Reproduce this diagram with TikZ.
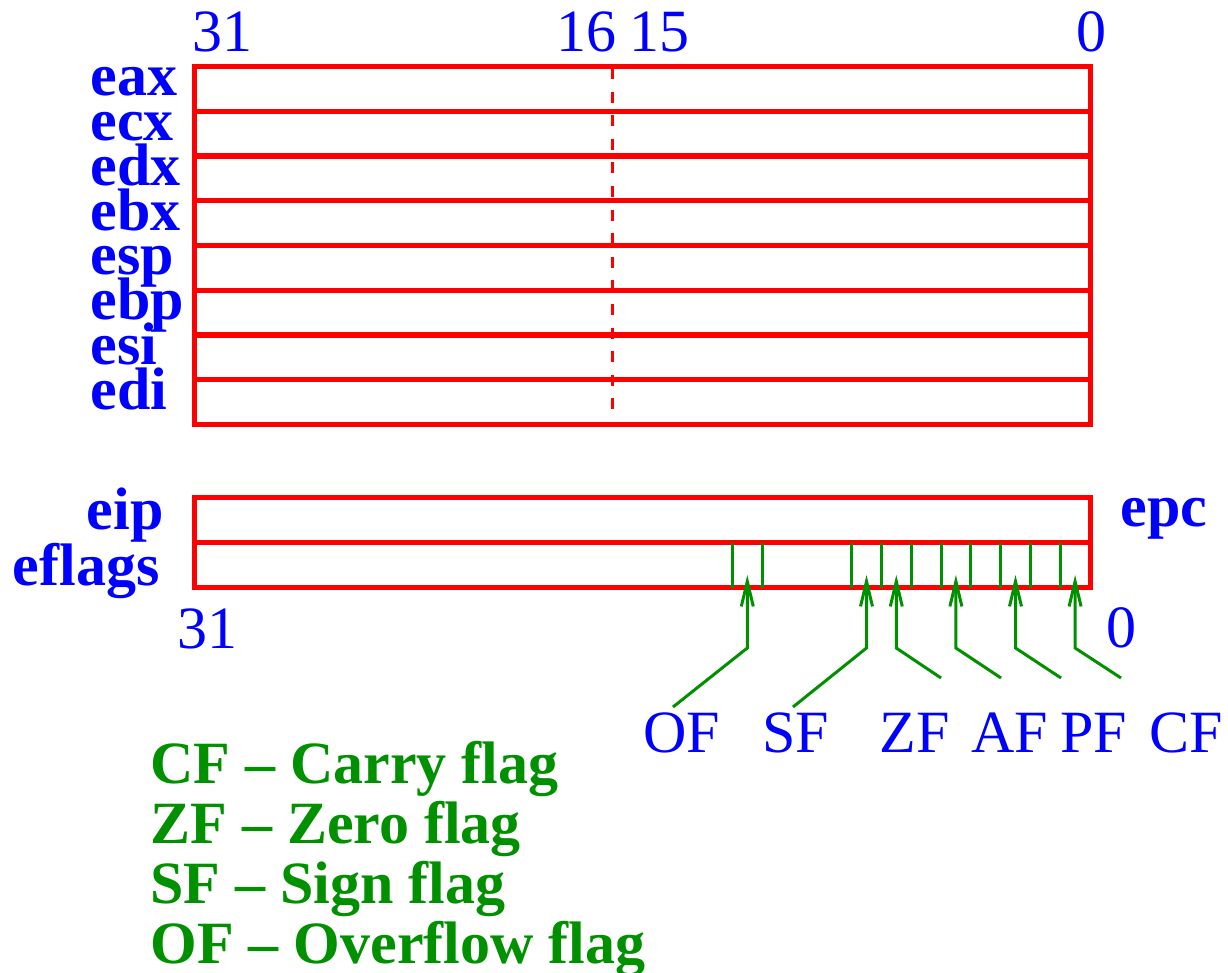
\documentclass[tikz,border=0pt]{standalone}
\usepackage{fontspec}
\setmainfont{Liberation Serif}
\usetikzlibrary{arrows.meta}
\definecolor{regred}{RGB}{255,0,0}
\definecolor{numblue}{RGB}{0,0,255}
\definecolor{flaggreen}{RGB}{0,144,0}

\begin{document}
\begin{tikzpicture}[x=0.5pt, y=-0.5pt,
    reg/.style={draw=regred, line width=2.5pt, minimum width=448pt, minimum height=22.4pt,
                inner sep=0pt, outer sep=0pt, anchor=north west},
    regname/.style={text=numblue, font=\fontsize{30}{30}\selectfont\bfseries, inner sep=0pt},
    bitnum/.style={text=numblue, font=\fontsize{30}{30}\selectfont, inner sep=0pt, anchor=base},
    flagname/.style={text=numblue, font=\fontsize{30}{30}\selectfont, inner sep=0pt, anchor=base},
    legend/.style={text=flaggreen, font=\fontsize{30}{30}\selectfont\bfseries, inner sep=0pt, anchor=base west},
    flagline/.style={draw=flaggreen, line width=1.5pt},
    pointer/.style={flagline, -{Straight Barb[length=12.5pt, width=6pt]}}
]
\useasboundingbox (0,0) rectangle (1228,973);

% general purpose registers
\foreach \r [count=\i from 0] in {eax,ecx,edx,ebx,esp,ebp,esi,edi} {
  \node[reg] (\r) at (194,66.5+44.75*\i) {};
  \node[regname, anchor=base west] (\r-name) at (90,96+44.75*\i) {\r};
}
\draw[regred, line width=1.5pt, dash pattern=on 5.5pt off 6.3pt] (612.5,68) -- (612.5,412);

\node[bitnum] (top31) at (222.5,52) {31};
\node[bitnum] (top16) at (586,52) {16};
\node[bitnum] (top15) at (659,52) {15};
\node[bitnum] (top0) at (1091,52) {0};

% eip and eflags
\node[reg, minimum height=22.5pt] (eip) at (194,498) {};
\node[reg, minimum height=22.5pt] (eflags) at (194,543) {};
\node[regname, anchor=base east] (eip-name) at (164,530) {eip};
\node[regname, anchor=base east] (eflags-name) at (160,586) {eflags};
\node[regname, anchor=base west] (epc-name) at (1120,527) {epc};
\node[bitnum] (bot31) at (207.5,648) {31};
\node[bitnum] (bot0) at (1121,647) {0};

% bit boundaries
\foreach \k in {1,...,8,11,12}
  \draw[flagline] (1090-29.8*\k,543) -- (1090-29.8*\k,588);

% flag pointers
\foreach \f/\b/\ex/\ey/\lx in {CF/0/1121/678/1186, PF/2/1061/678/1094, AF/4/1001/678/1010,
                               ZF/6/941/678/915, SF/7/793/707/796, OF/11/673/707/681.5} {
  \pgfmathsetmacro\bx{1090-29.8*(\b+0.5)}
  \node[flagname] (\f) at (\lx,752) {\f};
  \coordinate (\f-end) at (\ex,\ey);
  \coordinate (\f-knee) at (\bx,648);
  \coordinate (\f-bit) at (\bx,575);
  \draw[pointer] (\f-end) -- (\f-knee) -- (\f-bit);
}

% key
\foreach \t [count=\i from 0] in {CF -- Carry flag, ZF -- Zero flag, SF -- Sign flag, OF -- Overflow flag}
  \node[legend] (key-\i) at (150,783+60*\i) {\t};

\end{tikzpicture}
\end{document}
